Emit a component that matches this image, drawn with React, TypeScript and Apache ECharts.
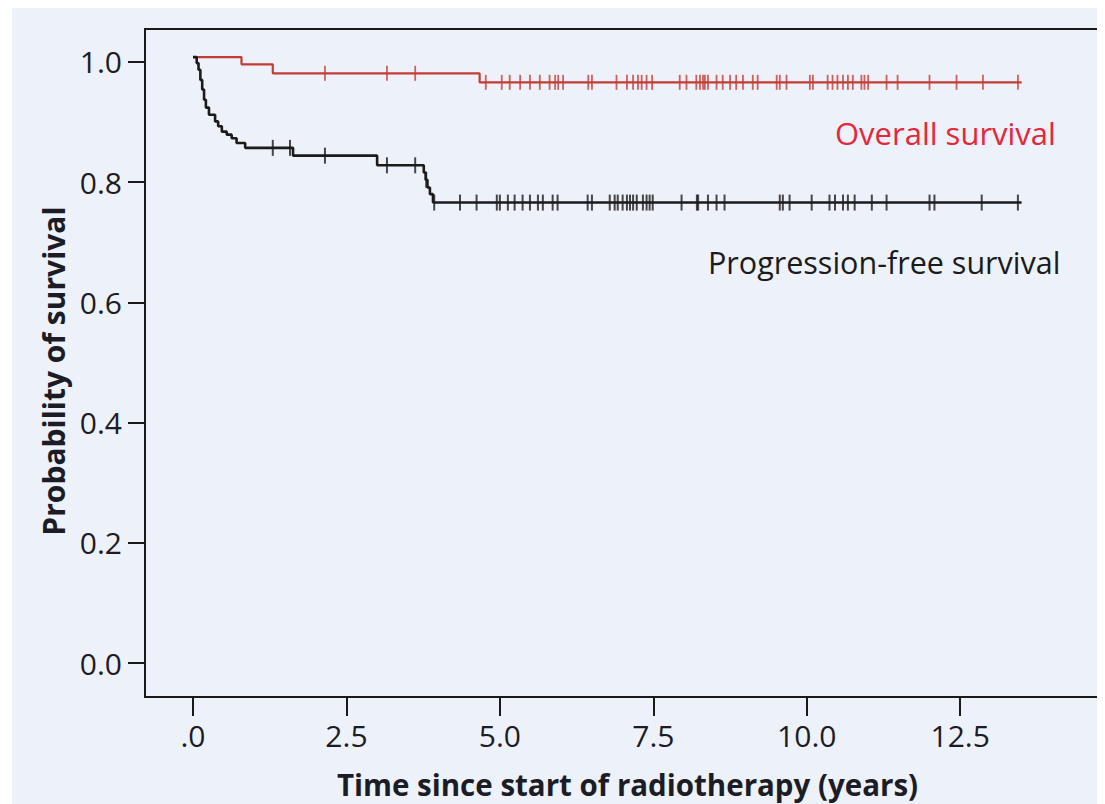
import React, { useEffect, useRef } from "react";
import * as echarts from "echarts";

const xTicks = [0, 2.5, 5, 7.5, 10, 12.5];
const yTicks = [0, 0.2, 0.4, 0.6, 0.8, 1.0];

const osTimes = [0, 0.79, 1.3, 4.67, 13.5];
const osSurv = [1.008, 0.996, 0.981, 0.966, 0.966];

const pfsTimes = [0, 0.06, 0.09, 0.12, 0.15, 0.18, 0.21, 0.26, 0.36, 0.41, 0.47, 0.55, 0.63, 0.71, 0.85, 1.63, 3.0, 3.76, 3.79, 3.82, 3.86, 3.91, 13.5];
const pfsSurv = [1.008, 0.998, 0.987, 0.97, 0.954, 0.937, 0.924, 0.912, 0.901, 0.893, 0.884, 0.879, 0.873, 0.865, 0.857, 0.844, 0.828, 0.816, 0.804, 0.791, 0.78, 0.766, 0.766];

const osCensored = [2.15, 3.16, 3.62, 4.77, 5.03, 5.16, 5.33, 5.49, 5.65, 5.81, 5.9, 5.95, 6.03, 6.44, 6.5, 6.9, 7.07, 7.17, 7.25, 7.31, 7.39, 7.48, 7.93, 8.04, 8.2, 8.26, 8.31, 8.34, 8.39, 8.53, 8.63, 8.75, 8.85, 8.96, 9.12, 9.2, 9.51, 9.56, 9.67, 10.05, 10.1, 10.34, 10.42, 10.5, 10.59, 10.67, 10.75, 10.89, 10.94, 11.0, 11.3, 11.48, 12.0, 12.44, 12.87, 13.44];
const pfsCensored = [1.3, 1.58, 2.15, 3.16, 3.62, 3.8, 3.93, 4.35, 4.62, 4.95, 5.0, 5.13, 5.24, 5.37, 5.49, 5.62, 5.7, 5.86, 5.94, 6.43, 6.5, 6.79, 6.87, 6.92, 7.0, 7.07, 7.12, 7.17, 7.23, 7.33, 7.39, 7.44, 7.49, 7.96, 8.21, 8.23, 8.39, 8.53, 8.66, 9.56, 9.61, 9.72, 10.08, 10.37, 10.46, 10.59, 10.67, 10.78, 11.06, 11.3, 12.0, 12.08, 12.85, 13.44];

function levelAt(times: number[], surv: number[], t: number) {
  let v = surv[0];
  for (let i = 0; i < times.length; i++) {
    if (times[i] <= t) v = surv[i];
  }
  return v;
}

const FONT = "'Open Sans', 'Noto Sans', sans-serif";
const RED_LINE = "#c43c35";
const RED_TEXT = "#e3283c";
const BLACK = "#1b1b1b";
const TEXT = "#1c1c26";

export default function App() {
  const ref = useRef<HTMLDivElement>(null);
  useEffect(() => {
    if (!ref.current) return;
    const chart = echarts.init(ref.current, null, { renderer: "svg" });
    const osLine = osTimes.map((t, i) => [t, osSurv[i]]);
    const pfsLine = pfsTimes.map((t, i) => [t, pfsSurv[i]]);
    const osMarks = osCensored.map((t) => [t, levelAt(osTimes, osSurv, t)]);
    const pfsMarks = pfsCensored.map((t) => [t, levelAt(pfsTimes, pfsSurv, t)]);
    chart.setOption({
      animation: false,
      backgroundColor: "#edf1f9",
      textStyle: { fontFamily: FONT },
      grid: {
        left: 133,
        top: 21,
        width: 957,
        height: 670,
        show: true,
        borderColor: "#1a1a1a",
        borderWidth: 2,
        backgroundColor: "transparent",
      },
      xAxis: {
        type: "value",
        min: -0.782,
        max: 14.81,
        name: "Time since start of radiotherapy (years)",
        nameLocation: "middle",
        nameGap: 72,
        nameTextStyle: { fontFamily: FONT, fontSize: 29.5, fontWeight: "bold", color: TEXT, padding: [0, 0, 0, 8] },
        axisLine: { show: true, onZero: false, lineStyle: { color: "#1a1a1a", width: 2 } },
        axisTick: { show: true, length: 19, customValues: xTicks, lineStyle: { color: "#1a1a1a", width: 2 } },
        axisLabel: {
          customValues: xTicks,
          margin: 23,
          fontFamily: FONT,
          fontSize: 30,
          color: TEXT,
          formatter: (v: number) => (v === 0 ? ".0" : v.toFixed(1)),
        },
        splitLine: { show: false },
      },
      yAxis: {
        type: "value",
        min: -0.0564,
        max: 1.0547,
        name: "Probability of survival",
        nameLocation: "middle",
        nameGap: 73,
        nameTextStyle: { fontFamily: FONT, fontSize: 30, fontWeight: "bold", color: TEXT, padding: [0, 16, 0, 0] },
        axisLine: { show: true, onZero: false, lineStyle: { color: "#1a1a1a", width: 2 } },
        axisTick: { show: true, length: 17, customValues: yTicks, lineStyle: { color: "#1a1a1a", width: 2 } },
        axisLabel: {
          customValues: yTicks,
          margin: 23,
          fontFamily: FONT,
          fontSize: 30,
          color: TEXT,
          formatter: (v: number) => v.toFixed(1),
        },
        splitLine: { show: false },
      },
      graphic: [
        {
          type: "text",
          x: 823,
          y: 125,
          style: { text: "Overall survival", fill: RED_TEXT, font: `31px ${FONT}`, verticalAlign: "middle" },
        },
        {
          type: "text",
          x: 696,
          y: 254,
          style: { text: "Progression-free survival", fill: BLACK, font: `30.5px ${FONT}`, verticalAlign: "middle" },
        },
      ],
      series: [
        {
          type: "line",
          data: osLine,
          step: "end",
          symbol: "none",
          lineStyle: { color: RED_LINE, width: 2.2 },
          z: 3,
        },
        {
          type: "line",
          data: pfsLine,
          step: "end",
          symbol: "none",
          lineStyle: { color: BLACK, width: 2.6 },
          z: 3,
        },
        {
          type: "scatter",
          data: osMarks,
          symbol: "rect",
          symbolSize: [1.8, 15],
          itemStyle: { color: RED_LINE, opacity: 0.8 },
          z: 4,
        },
        {
          type: "scatter",
          data: pfsMarks,
          symbol: "rect",
          symbolSize: [2, 16],
          itemStyle: { color: BLACK, opacity: 0.8 },
          z: 4,
        },
      ],
    });
    return () => chart.dispose();
  }, []);
  return (
    <div
      ref={ref}
      style={{ width: 1093, height: 796, marginLeft: 4, background: "#edf1f9" }}
    />
  );
}
